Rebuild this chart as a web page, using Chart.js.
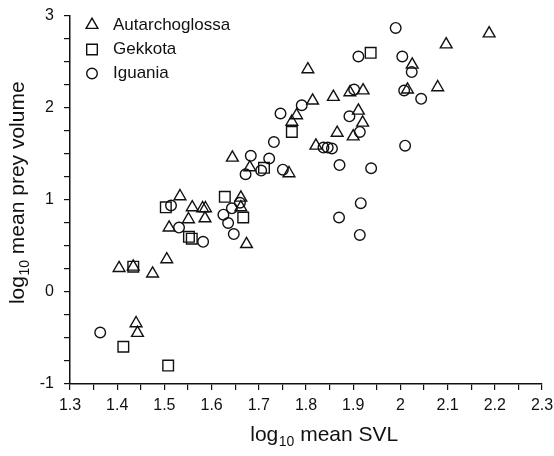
<!DOCTYPE html>
<html>
<head>
<meta charset="utf-8">
<script src="https://cdn.jsdelivr.net/npm/chart.js@4"></script>
<style>
html,body{margin:0;padding:0;background:#fff;}
canvas{display:block;}
</style>
</head>
<body>
<canvas id="c" width="554" height="456"></canvas>
<script>
// ---- data (log10 mean SVL, log10 mean prey volume) ----
const seriesNames = ['Autarchoglossa', 'Gekkota', 'Iguania'];

const autSVL  = [1.404,1.434,1.475,1.505,1.440,1.443,1.510,1.533,1.559,1.581,1.587,1.586,1.551,1.662,1.662,1.674,1.644,1.681,1.764,1.770,1.780,1.814,1.804,1.821,1.866,1.858,1.893,1.921,1.911,1.920,1.900,2.015,2.025,2.079,2.097,2.188];
const autPrey = [0.26,0.275,0.20,0.355,-0.34,-0.445,0.70,1.04,0.92,0.91,0.91,0.80,0.79,1.025,0.92,0.52,1.46,1.355,1.29,1.85,1.92,2.08,2.42,1.59,1.73,2.12,2.17,2.19,1.97,1.84,1.69,2.20,2.47,2.225,2.69,2.81];

const gekSVL  = [1.434,1.413,1.508,1.503,1.552,1.558,1.628,1.667,1.711,1.770,1.937];
const gekPrey = [0.275,-0.595,-0.80,0.92,0.60,0.58,1.035,0.81,1.35,1.74,2.60];

const igSVL  = [1.364,1.514,1.531,1.582,1.660,1.643,1.625,1.635,1.647,1.683,1.672,1.705,1.722,1.732,1.751,1.746,1.791,1.837,1.846,1.855,1.871,1.870,1.892,1.902,1.911,1.914,1.916,1.914,1.938,1.990,2.004,2.008,2.010,2.024,2.044];
const igPrey = [-0.44,0.94,0.70,0.545,0.97,0.91,0.84,0.75,0.63,1.48,1.28,1.32,1.45,1.63,1.33,1.94,2.03,1.57,1.57,1.56,1.38,0.81,1.91,2.20,2.56,1.74,0.965,0.62,1.345,2.87,2.56,2.19,1.59,2.39,2.10];

const xTickValues = [1.3,1.4,1.5,1.6,1.7,1.8,1.9,2.0,2.1,2.2,2.3];
const xTickLabels = ['1.3','1.4','1.5','1.6','1.7','1.8','1.9','2','2.1','2.2','2.3'];
const yTickValues = [-1,0,1,2,3];
const yTickLabels = ['-1','0','1','2','3'];

const xTitle = ['log', '10', ' mean SVL'];
const yTitle = ['log', '10', ' mean prey volume'];

// ---- helpers ----
const toPts = (xs, ys) => xs.map((x, i) => ({x: x, y: ys[i]}));
const INK = '#111';
const FONT = "'Liberation Sans', Arial, Helvetica, sans-serif";

function withMinor(majors, parts) {
  const out = [];
  for (let i = 0; i < majors.length; i++) {
    out.push(majors[i]);
    if (i < majors.length - 1) {
      const step = (majors[i + 1] - majors[i]) / parts;
      for (let k = 1; k < parts; k++) out.push(majors[i] + k * step);
    }
  }
  return out;
}
function labelFor(values, labels, v) {
  for (let i = 0; i < values.length; i++) if (Math.abs(values[i] - v) < 1e-6) return labels[i];
  return '';
}

const markerStyles = [
  {pointStyle: 'triangle', radius: 6.8},
  {pointStyle: 'rect', radius: 7.5},
  {pointStyle: 'circle', radius: 5.3}
];

function drawMarker(ctx, style, r, x, y) {
  ctx.beginPath();
  if (style === 'triangle') {
    ctx.moveTo(x, y - r);
    ctx.lineTo(x + r * Math.sin(2 * Math.PI / 3), y - r * Math.cos(2 * Math.PI / 3));
    ctx.lineTo(x + r * Math.sin(4 * Math.PI / 3), y - r * Math.cos(4 * Math.PI / 3));
    ctx.closePath();
  } else if (style === 'rect') {
    const s = r * Math.SQRT1_2;
    ctx.rect(x - s, y - s, 2 * s, 2 * s);
  } else {
    ctx.arc(x, y, r, 0, Math.PI * 2);
  }
  ctx.stroke();
}

function subText(ctx, parts, big, small) {
  ctx.font = big + 'px ' + FONT;
  const w0 = ctx.measureText(parts[0]).width;
  const w2 = ctx.measureText(parts[2]).width;
  ctx.font = small + 'px ' + FONT;
  const w1 = ctx.measureText(parts[1]).width;
  return {w0, w1, w2, total: w0 + w1 + w2};
}
function drawSub(ctx, parts, big, small, x0, baseline) {
  const m = subText(ctx, parts, big, small);
  ctx.font = big + 'px ' + FONT;
  ctx.fillText(parts[0], x0, baseline);
  ctx.font = small + 'px ' + FONT;
  ctx.fillText(parts[1], x0 + m.w0 + 0.5, baseline + 5);
  ctx.font = big + 'px ' + FONT;
  ctx.fillText(parts[2], x0 + m.w0 + m.w1 + 0.5, baseline);
}

const decorPlugin = {
  id: 'decor',
  afterDraw(chart) {
    const ctx = chart.ctx;
    ctx.save();
    ctx.fillStyle = INK;
    ctx.strokeStyle = INK;
    ctx.textAlign = 'left';
    ctx.textBaseline = 'alphabetic';
    // legend
    const legY = [25, 49.5, 73.5];
    const baseY = [29.5, 54, 78];
    ctx.lineWidth = 1.4;
    for (let i = 0; i < seriesNames.length; i++) {
      drawMarker(ctx, markerStyles[i].pointStyle, markerStyles[i].radius, 92, legY[i]);
      ctx.font = '17px ' + FONT;
      ctx.fillText(seriesNames[i], 113, baseY[i]);
    }
    // x title
    const mx = subText(ctx, xTitle, 21, 14);
    drawSub(ctx, xTitle, 21, 14, 324 - mx.total / 2, 441);
    // y title
    const my = subText(ctx, yTitle, 21, 14);
    ctx.translate(24, 193);
    ctx.rotate(-Math.PI / 2);
    drawSub(ctx, yTitle, 21, 14, -my.total / 2, 0);
    ctx.restore();
  }
};

const ds = [
  {label: seriesNames[0], data: toPts(autSVL, autPrey)},
  {label: seriesNames[1], data: toPts(gekSVL, gekPrey)},
  {label: seriesNames[2], data: toPts(igSVL, igPrey)}
].map((d, i) => Object.assign(d, {
  pointStyle: markerStyles[i].pointStyle,
  pointRadius: markerStyles[i].radius,
  pointHoverRadius: markerStyles[i].radius,
  pointBorderWidth: 1.4,
  pointBorderColor: INK,
  pointBackgroundColor: 'rgba(0,0,0,0)',
  showLine: false
}));

new Chart(document.getElementById('c'), {
  type: 'scatter',
  data: {datasets: ds},
  plugins: [decorPlugin],
  options: {
    responsive: false,
    animation: false,
    events: [],
    layout: {padding: {left: 0, right: 12, top: 16, bottom: 0}},
    plugins: {legend: {display: false}, tooltip: {enabled: false}},
    scales: {
      x: {
        type: 'linear',
        min: 1.3, max: 2.3,
        afterBuildTicks: s => { s.ticks = withMinor(xTickValues, 2).map(v => ({value: v})); },
        afterFit: s => { s.height = 72; s.paddingRight = 0; s.paddingLeft = 0; },
        border: {display: true, color: INK, width: 1.5},
        grid: {display: true, drawOnChartArea: false, drawTicks: true, tickLength: 6, color: INK, lineWidth: 1.2},
        ticks: {
          autoSkip: false, maxRotation: 0, minRotation: 0, padding: 6,
          color: INK, font: {family: FONT, size: 16},
          callback: v => labelFor(xTickValues, xTickLabels, v)
        }
      },
      y: {
        type: 'linear',
        min: -1, max: 3,
        afterBuildTicks: s => { s.ticks = withMinor(yTickValues, 4).map(v => ({value: v})); },
        afterFit: s => { s.width = 70; s.paddingTop = 0; s.paddingBottom = 0; },
        border: {display: true, color: INK, width: 1.5},
        grid: {display: true, drawOnChartArea: false, drawTicks: true, tickLength: 6, color: INK, lineWidth: 1.2},
        ticks: {
          autoSkip: false, padding: 10,
          color: INK, font: {family: FONT, size: 16},
          callback: v => labelFor(yTickValues, yTickLabels, v)
        }
      }
    }
  }
});
</script>
</body>
</html>
